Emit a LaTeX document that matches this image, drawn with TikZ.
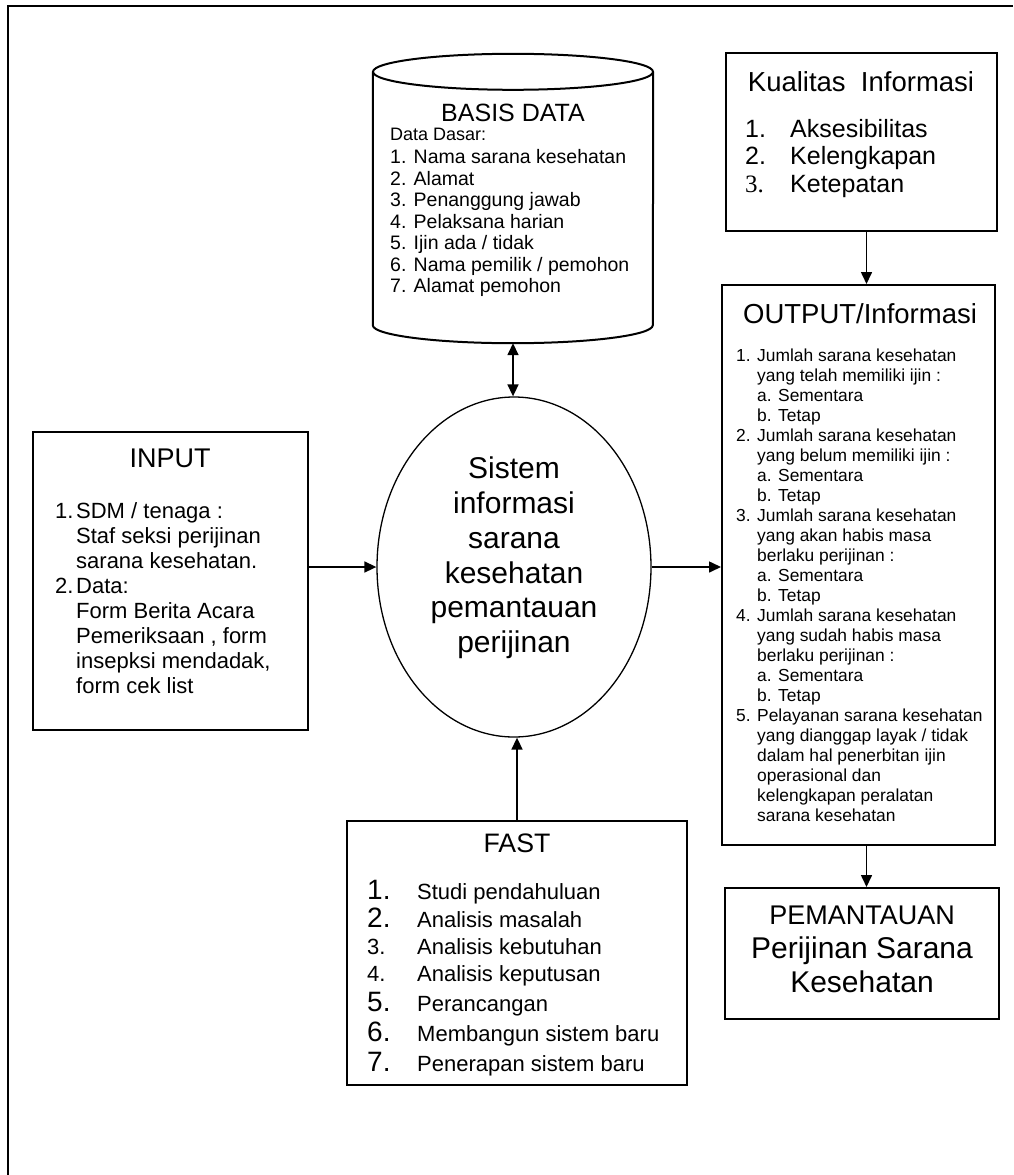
\documentclass[tikz,border=0pt]{standalone}
\usepackage{fontspec}
\setmainfont{Liberation Sans}
\newfontfamily\timesfont{Liberation Serif}
\usetikzlibrary{shapes.geometric}
\usetikzlibrary{arrows.meta}

\newcommand{\nb}[2]{\makebox[#1][l]{#2}}

\begin{document}
\begin{tikzpicture}
  [x=1pt, y=-1pt, >={Triangle[length=12pt,width=11pt]}]
  \tikzset{frame/.style={draw, line width=2pt, inner sep=0pt}}
  \tikzset{conn/.style={->, line width=1.6pt}}
  \tikzset{title/.style={font=\fontsize{27}{32}\selectfont, inner sep=0pt, anchor=base}}
  \tikzset{list/.style={align=left, inner sep=0pt, anchor=north west}}

  \useasboundingbox (0,0) rectangle (1013,1175);

  % outer frame
  \draw[line width=2pt] (8,1175) -- (8,6) -- (1013,6);

  % frames
  \node[frame, minimum width=275pt, minimum height=298pt] (IN) at (170.5,581) {};
  \node[frame, minimum width=271pt, minimum height=178pt] (KI) at (861.5,142) {};
  \node[frame, minimum width=273pt, minimum height=560pt] (OU) at (858.5,565) {};
  \node[frame, minimum width=274pt, minimum height=131pt] (PM) at (862,953.5) {};
  \node[frame, minimum width=340pt, minimum height=264pt] (FA) at (517,953) {};
  \node[draw, ellipse, line width=1.3pt, inner sep=0pt, minimum width=274pt, minimum height=340pt] (SI) at (514,567) {};

  % basis data (cylinder)
  \node[inner sep=0pt, minimum width=280pt, minimum height=289pt] (BD) at (513,198.5) {};
  \draw[line width=2pt] ([yshift=-18pt]BD.north) ellipse [x radius=140pt, y radius=18pt];
  \draw[line width=2pt] ([yshift=-18pt]BD.north west) -- ([yshift=18pt]BD.south west)
    arc [start angle=180, end angle=360, x radius=140pt, y radius=18pt] -- ([yshift=-18pt]BD.north east);

  % texts
  \node[title, font=\fontsize{25}{28}\selectfont] (BDT) at (513,121) {BASIS DATA};
  \node[list, font=\fontsize{19.5}{21.5}\selectfont] (BDL) at (390,128) {{\fontsize{18}{21.5}\selectfont Data Dasar:}\\[1.5pt]
    1. Nama sarana kesehatan\\
    2. Alamat\\
    3. Penanggung jawab\\
    4. Pelaksana harian\\
    5. Ijin ada / tidak\\
    6. Nama pemilik / pemohon\\
    7. Alamat pemohon};

  \node[title, font=\fontsize{27.5}{32}\selectfont] (KIT) at (861,91) {Kualitas\ \ Informasi};
  \node[list, font=\fontsize{25}{27.5}\selectfont] (KIL) at (745,119) {\nb{45pt}{1.}Aksesibilitas\\
    \nb{45pt}{2.}Kelengkapan\\
    \nb{45pt}{\timesfont 3.}Ketepatan};

  \node[title, font=\fontsize{27.5}{32}\selectfont] (OUT) at (860,323) {OUTPUT/Informasi};
  \node[list, font=\fontsize{17.4}{20}\selectfont] (OUL) at (736,349) {\nb{21pt}{1.}Jumlah sarana kesehatan\\
    \hspace*{21pt}yang telah memiliki ijin :\\
    \hspace*{21pt}\nb{21pt}{a.}Sementara\\
    \hspace*{21pt}\nb{21pt}{b.}Tetap\\
    \nb{21pt}{2.}Jumlah sarana kesehatan\\
    \hspace*{21pt}yang belum memiliki ijin :\\
    \hspace*{21pt}\nb{21pt}{a.}Sementara\\
    \hspace*{21pt}\nb{21pt}{b.}Tetap\\
    \nb{21pt}{3.}Jumlah sarana kesehatan\\
    \hspace*{21pt}yang akan habis masa\\
    \hspace*{21pt}berlaku perijinan :\\
    \hspace*{21pt}\nb{21pt}{a.}Sementara\\
    \hspace*{21pt}\nb{21pt}{b.}Tetap\\
    \nb{21pt}{4.}Jumlah sarana kesehatan\\
    \hspace*{21pt}yang sudah habis masa\\
    \hspace*{21pt}berlaku perijinan :\\
    \hspace*{21pt}\nb{21pt}{a.}Sementara\\
    \hspace*{21pt}\nb{21pt}{b.}Tetap\\
    \nb{21pt}{5.}Pelayanan sarana kesehatan\\
    \hspace*{21pt}yang dianggap layak / tidak\\
    \hspace*{21pt}dalam hal penerbitan ijin\\
    \hspace*{21pt}operasional dan\\
    \hspace*{21pt}kelengkapan peralatan\\
    \hspace*{21pt}sarana kesehatan};

  \node[align=center, inner sep=0pt, font=\fontsize{30}{34}\selectfont] (PMT) at (862,949.5)
    {{\fontsize{27}{34}\selectfont PEMANTAUAN}\\Perijinan Sarana\\Kesehatan};

  \node[title] (INT) at (170,467) {INPUT};
  \node[list, font=\fontsize{22}{25}\selectfont] (INL) at (55,502) {\nb{21pt}{1.}SDM / tenaga :\\
    \hspace*{21pt}Staf seksi perijinan\\
    \hspace*{21pt}sarana kesehatan.\\
    \nb{21pt}{2.}Data:\\
    \hspace*{21pt}Form Berita Acara\\
    \hspace*{21pt}Pemeriksaan , form\\
    \hspace*{21pt}insepksi mendadak,\\
    \hspace*{21pt}form cek list};

  \node[align=center, inner sep=0pt, font=\fontsize{30}{34.8}\selectfont] (SIT) at (514,558)
    {Sistem\\informasi\\sarana\\kesehatan\\pemantauan\\perijinan};

  \node[title, font=\fontsize{26.7}{32}\selectfont] (FAT) at (517,852) {FAST};
  \node[list, font=\fontsize{22}{27}\selectfont] (FAL) at (367,880) {\nb{50pt}{\fontsize{28}{27}\selectfont 1.}Studi pendahuluan\\[1pt]
    \nb{50pt}{\fontsize{28}{27}\selectfont 2.}Analisis masalah\\
    \nb{50pt}{3.}Analisis kebutuhan\\
    \nb{50pt}{4.}Analisis keputusan\\[3pt]
    \nb{50pt}{\fontsize{28}{27}\selectfont 5.}Perancangan\\[3pt]
    \nb{50pt}{\fontsize{28}{27}\selectfont 6.}Membangun sistem baru\\[3pt]
    \nb{50pt}{\fontsize{28}{27}\selectfont 7.}Penerapan sistem baru};

  % connectors
  \draw[conn, <->] (BD.south) -- (BD.south |- SI.north);
  \draw[conn] (IN.east |- SI.west) -- (SI.west);
  \draw[conn] (SI.east) -- (SI.east -| OU.west);
  \draw[conn] (FA.north) -- (FA.north |- SI.south);
  \draw[conn] ([xshift=5pt]KI.south) -- ([xshift=5pt]KI.south |- OU.north);
  \draw[conn] ([xshift=8pt]OU.south) -- ([xshift=8pt]OU.south |- PM.north);
\end{tikzpicture}
\end{document}
